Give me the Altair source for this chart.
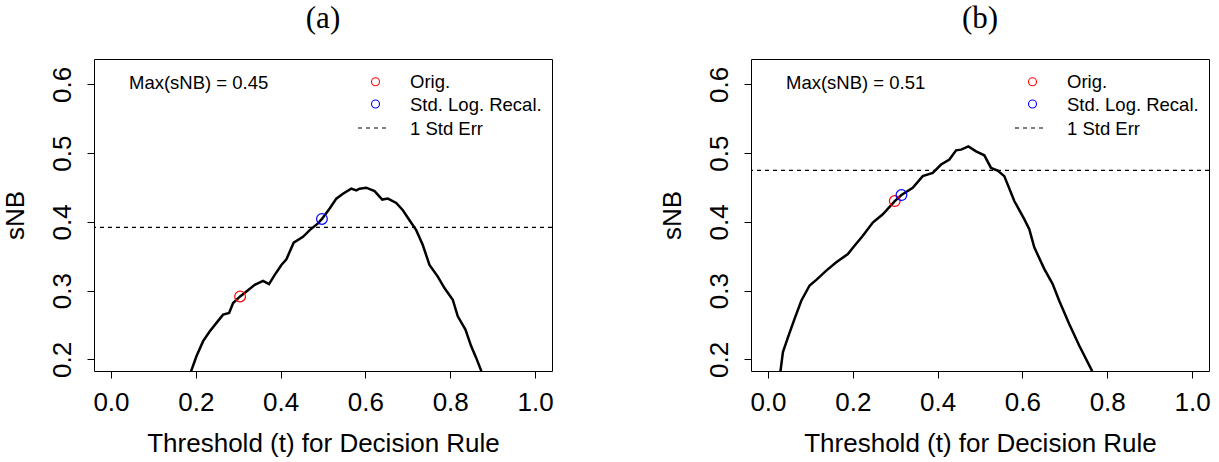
import altair as alt
import pandas as pd

# ---------------- data ----------------
a_t = [0.189, 0.2018, 0.2173, 0.2331, 0.2488, 0.2644, 0.2786, 0.288, 0.3045, 0.3195,
       0.339, 0.3586, 0.3727, 0.3862, 0.4019, 0.4137, 0.4309, 0.4528, 0.4686, 0.4881,
       0.4975, 0.5157, 0.5314, 0.547, 0.5667, 0.5785, 0.5863, 0.602, 0.6216, 0.6397,
       0.653, 0.6727, 0.6883, 0.704, 0.7198, 0.7353, 0.7511, 0.7707, 0.7864, 0.806,
       0.8178, 0.8359, 0.8493, 0.861, 0.8735]
a_snb = [0.183, 0.205, 0.2266, 0.241, 0.2532, 0.2652, 0.2676, 0.282, 0.2916, 0.2988,
         0.3085, 0.3143, 0.3095, 0.323, 0.3374, 0.3457, 0.3697, 0.3783, 0.388, 0.3977,
         0.4043, 0.4194, 0.4338, 0.441, 0.4483, 0.4458, 0.4483, 0.4497, 0.4448, 0.4324,
         0.4338, 0.4275, 0.4169, 0.4024, 0.388, 0.3663, 0.3374, 0.3205, 0.3038, 0.2868,
         0.2627, 0.2435, 0.2194, 0.2026, 0.183]
a_se = 0.392
a_orig = [0.3045, 0.2916]
a_recal = [0.4975, 0.4043]
a_max = "Max(sNB) = 0.45"

b_t = [0.0295, 0.0353, 0.0471, 0.0629, 0.0786, 0.0982, 0.114, 0.1375, 0.1611, 0.1884,
       0.2041, 0.2237, 0.2472, 0.2708, 0.299, 0.3148, 0.3414, 0.365, 0.3885, 0.4083,
       0.4278, 0.4436, 0.4554, 0.4726, 0.4907, 0.5102, 0.526, 0.5416, 0.5573, 0.5809,
       0.6044, 0.6162, 0.628, 0.6515, 0.6711, 0.6868, 0.7104, 0.7339, 0.7645]
b_snb = [0.183, 0.2106, 0.2322, 0.2594, 0.2853, 0.3075, 0.3157, 0.3292, 0.3412, 0.3533,
         0.3653, 0.3798, 0.399, 0.4111, 0.4303, 0.439, 0.4496, 0.4665, 0.4713, 0.4834,
         0.4906, 0.504, 0.505, 0.5098, 0.5026, 0.4968, 0.4785, 0.4747, 0.4665, 0.4303,
         0.4039, 0.3895, 0.3629, 0.3317, 0.31, 0.2853, 0.2516, 0.2202, 0.183]
b_se = 0.475
b_orig = [0.299, 0.4303]
b_recal = [0.3148, 0.439]
b_max = "Max(sNB) = 0.51"

x_ticks = [0.0, 0.2, 0.4, 0.6, 0.8, 1.0]
y_ticks = [0.2, 0.3, 0.4, 0.5, 0.6]
legend_labels = ["Orig.", "Std. Log. Recal.", "1 Std Err"]

SANS = "Liberation Sans"
SERIF = "Liberation Serif"
W, H = 458, 312

xscale = alt.Scale(domain=[-0.04, 1.04], nice=False, zero=False)
yscale = alt.Scale(domain=[0.1832, 0.6368], nice=False, zero=False)

XAXIS = alt.Axis(values=x_ticks, format=".1f",
                 title="Threshold (t) for Decision Rule",
                 titlePadding=15, labelPadding=11)
YAXIS = alt.Axis(values=y_ticks, format=".1f", title="sNB",
                 labelAngle=270, labelAlign="center",
                 labelBaseline="alphabetic", labelPadding=17,
                 titlePadding=21)
XENC = alt.X("t:Q", scale=xscale, axis=XAXIS)
YENC = alt.Y("snb:Q", scale=yscale, axis=YAXIS)


def legend_text(label, ypix):
    return alt.Chart(pd.DataFrame({"lab": [label]})).mark_text(
        align="left", baseline="middle", font=SANS, fontSize=18.5,
        color="black").encode(x=alt.value(316), y=alt.value(ypix), text="lab:N")


def panel(t, snb, se, orig, recal, maxlab, title):
    curve_df = pd.DataFrame({"t": t, "snb": snb})
    curve = alt.Chart(curve_df).mark_line(color="black", strokeWidth=2.5,
                                          clip=True).encode(x=XENC, y=YENC)
    se_rule = alt.Chart(pd.DataFrame({"snb": [se]})).mark_rule(
        color="black", strokeDash=[4, 4], strokeWidth=1.2).encode(y=YENC)
    pts_df = pd.DataFrame({"t": [orig[0], recal[0]],
                           "snb": [orig[1], recal[1]],
                           "kind": ["Orig.", "Std. Log. Recal."]})
    pts = alt.Chart(pts_df).mark_point(shape="circle", filled=False, size=115,
                                       strokeWidth=1.2, opacity=1).encode(
        x=XENC, y=YENC,
        color=alt.Color("kind:N",
                        scale=alt.Scale(domain=["Orig.", "Std. Log. Recal."],
                                        range=["red", "blue"]),
                        legend=None))
    one = pd.DataFrame({"k": [0]})
    max_txt = alt.Chart(pd.DataFrame({"txt": [maxlab]})).mark_text(
        align="left", baseline="middle", font=SANS, fontSize=18.5,
        color="black").encode(x=alt.value(35), y=alt.value(23.5), text="txt:N")
    leg_red = alt.Chart(one).mark_point(shape="circle", filled=False, size=64,
                                        color="red", strokeWidth=1.1,
                                        opacity=1).encode(
        x=alt.value(281.5), y=alt.value(22.7))
    leg_blue = alt.Chart(one).mark_point(shape="circle", filled=False, size=64,
                                         color="blue", strokeWidth=1.1,
                                         opacity=1).encode(
        x=alt.value(281.5), y=alt.value(45))
    leg_dash = alt.Chart(one).mark_rule(color="black", strokeDash=[4, 4],
                                        strokeWidth=1.1).encode(
        x=alt.value(264), x2=alt.value(295), y=alt.value(69))
    texts = [legend_text(legend_labels[0], 22.7),
             legend_text(legend_labels[1], 45.5),
             legend_text(legend_labels[2], 69.5)]
    return alt.layer(curve, se_rule, pts, max_txt, leg_red, leg_blue, leg_dash,
                     *texts).properties(
        width=W, height=H,
        title=alt.TitleParams(title, font=SERIF, fontSize=31,
                              fontWeight="normal", anchor="middle", offset=24,
                              color="black"))


pa = panel(a_t, a_snb, a_se, a_orig, a_recal, a_max, "(a)")
pb = panel(b_t, b_snb, b_se, b_orig, b_recal, b_max, "(b)")

chart = alt.hconcat(pa, pb, spacing=199, bounds="flush").configure_view(
    stroke="black", strokeWidth=1
).configure_axis(
    grid=False, domain=False, ticks=True, tickSize=7, tickColor="black",
    tickWidth=1, labelFont=SANS, labelFontSize=26, labelColor="black",
    titleFont=SANS, titleFontSize=26, titleFontWeight="normal",
    titleColor="black", labelOverlap=False
).properties(padding={"left": 1, "top": 2, "right": 5, "bottom": 5},
             background="white")

chart.save("out.html", embed_options={"renderer": "svg", "actions": False})
